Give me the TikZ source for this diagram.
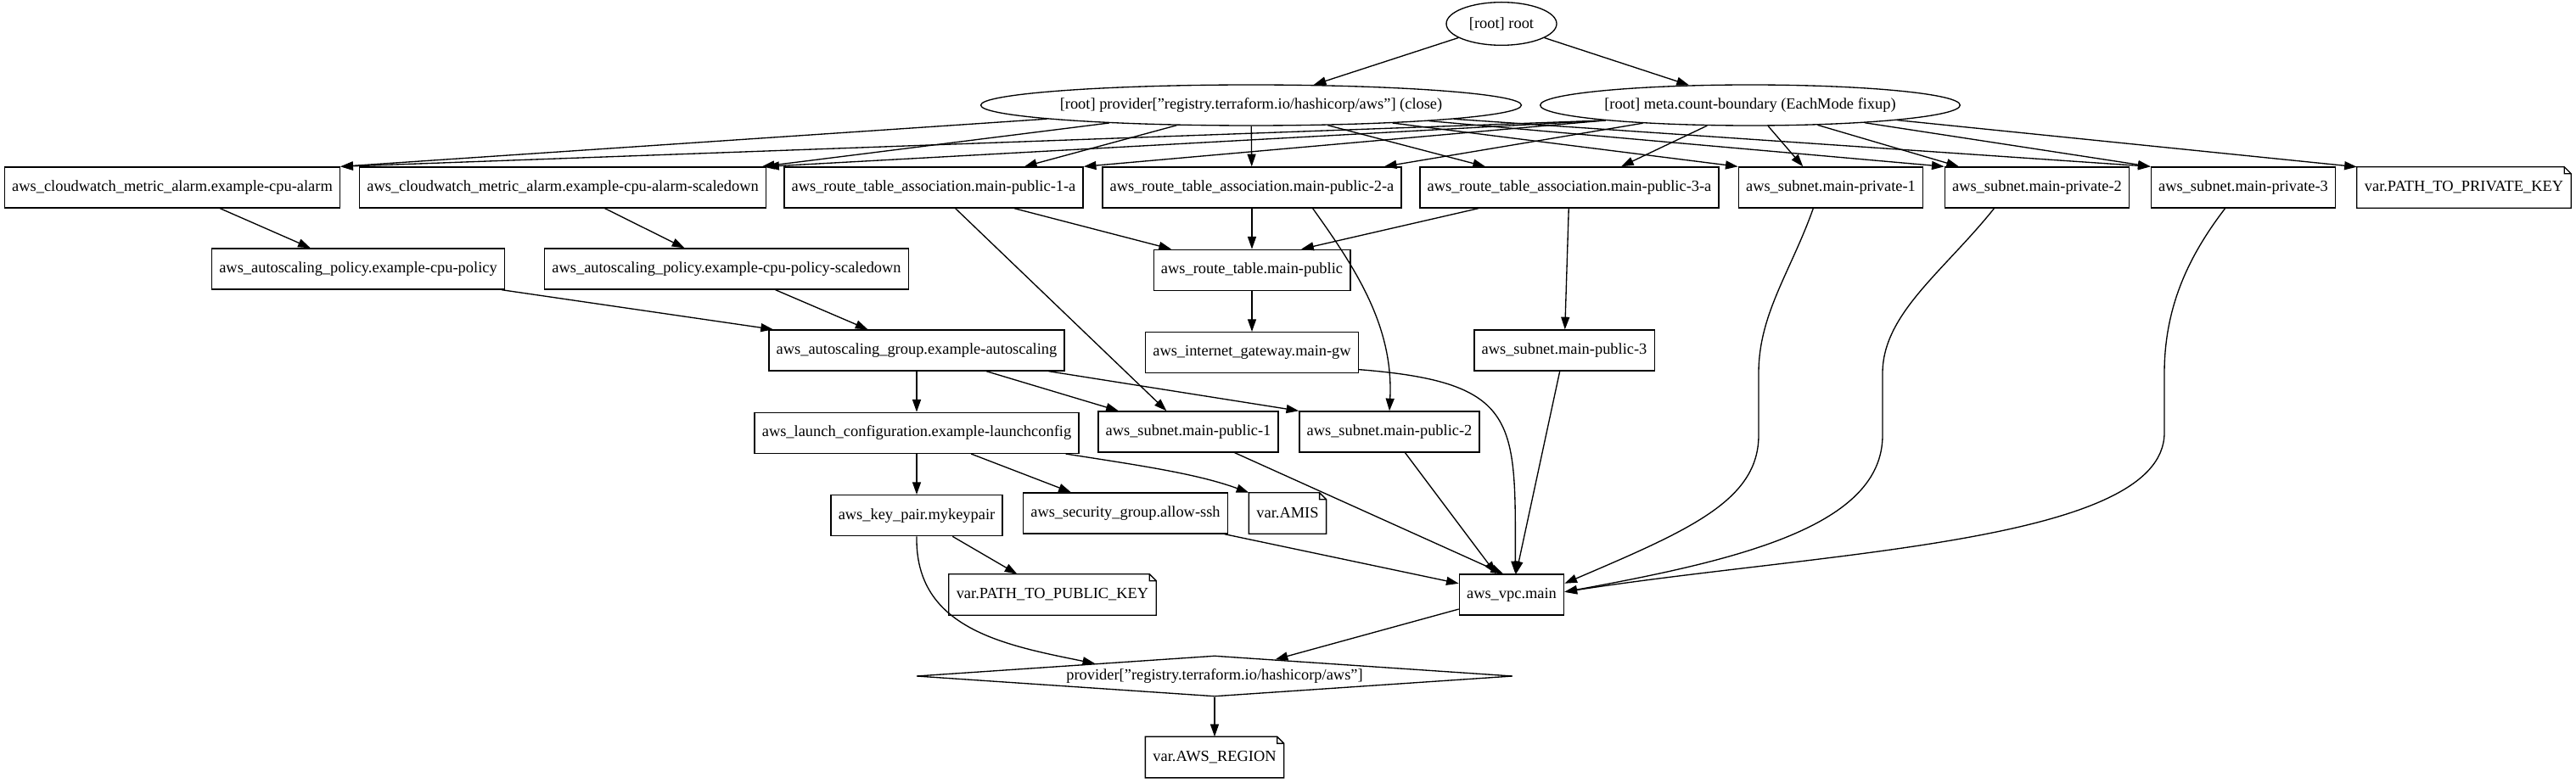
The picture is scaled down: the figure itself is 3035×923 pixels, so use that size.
\documentclass[tikz,border=0pt]{standalone}
\usepackage{fontspec}
\setmainfont{Liberation Serif}
\usetikzlibrary{arrows.meta,shapes.geometric,positioning}
\tikzset{line/.style={draw, line width=1pt, -{Triangle[length=11pt,width=7.5pt]}}}

\begin{document}
\begin{tikzpicture}[x=0.75pt, y=-0.75pt, font=\fontsize{13.8}{16}\selectfont]
\tikzstyle{block} = [rectangle, draw, line width=1pt, inner xsep=6.6pt, minimum width=54pt, minimum height=36pt]
\tikzstyle{note} = [rectangle, inner xsep=6.6pt, minimum width=54pt, minimum height=36pt,
    append after command={\pgfextra{
        \draw [line width=1pt] (\tikzlastnode.north west) -- ([xshift=-6pt]\tikzlastnode.north east)
            -- ([yshift=-6pt]\tikzlastnode.north east) -- (\tikzlastnode.south east)
            -- (\tikzlastnode.south west) -- cycle
            ([xshift=-6pt]\tikzlastnode.north east) |- ([yshift=-6pt]\tikzlastnode.north east);}}]
\tikzstyle{oval} = [ellipse, draw, line width=1pt, inner sep=0pt, minimum height=36pt]
\tikzstyle{gate} = [diamond, draw, line width=1pt, aspect=15, inner sep=0pt, minimum width=527pt, minimum height=36pt]
\useasboundingbox (0,0) rectangle (3035,923);

% blocks
    \node [oval, minimum width=97.5pt, minimum height=38pt] (root) at (1769,28) {[root] root};
    \node [oval, minimum width=476pt] (close) at (1474,124) {[root] provider["registry.terraform.io/hashicorp/aws"] (close)};
    \node [oval, minimum width=371pt] (count) at (2062,124) {[root] meta.count-boundary (EachMode fixup)};

    \node [block] (alarm) at (203,221) {aws\_cloudwatch\_metric\_alarm.example-cpu-alarm};
    \node [block] (alarmdown) at (663,221) {aws\_cloudwatch\_metric\_alarm.example-cpu-alarm-scaledown};
    \node [block] (rta1) at (1100,221) {aws\_route\_table\_association.main-public-1-a};
    \node [block] (rta2) at (1475,221) {aws\_route\_table\_association.main-public-2-a};
    \node [block] (rta3) at (1849,221) {aws\_route\_table\_association.main-public-3-a};
    \node [block] (priv1) at (2157,221) {aws\_subnet.main-private-1};
    \node [block] (priv2) at (2400,221) {aws\_subnet.main-private-2};
    \node [block] (priv3) at (2643,221) {aws\_subnet.main-private-3};
    \node [note] (privkey) at (2903,221) {var.PATH\_TO\_PRIVATE\_KEY};

    \node [block] (policy) at (422,317) {aws\_autoscaling\_policy.example-cpu-policy};
    \node [block] (policydown) at (856,317) {aws\_autoscaling\_policy.example-cpu-policy-scaledown};
    \node [block, below=36pt of rta2] (rt) {aws\_route\_table.main-public};

    \node [block] (asg) at (1080,413) {aws\_autoscaling\_group.example-autoscaling};
    \node [block, below=36pt of rt] (igw) {aws\_internet\_gateway.main-gw};
    \node [block] (pub3) at (1843,413) {aws\_subnet.main-public-3};

    \node [block, below=36pt of asg] (lc) {aws\_launch\_configuration.example-launchconfig};
    \node [block] (pub1) at (1400,509) {aws\_subnet.main-public-1};
    \node [block] (pub2) at (1637,509) {aws\_subnet.main-public-2};

    \node [block, below=36pt of lc] (kp) {aws\_key\_pair.mykeypair};
    \node [block] (sg) at (1326,605) {aws\_security\_group.allow-ssh};
    \node [note] (amis) at (1517,605) {var.AMIS};

    \node [note] (pubkey) at (1240,701) {var.PATH\_TO\_PUBLIC\_KEY};
    \node [block] (vpc) at (1781,701) {aws\_vpc.main};

    \node [gate] (prov) at (1431,797) {provider["registry.terraform.io/hashicorp/aws"]};
    \node [note, below=35pt of prov] (region) {var.AWS\_REGION};

% arrows
    \path [line] (root) -- (close);
    \path [line] (root) -- (count);
    \path [line] (close) -- (alarm.north east);
    \path [line] (close) -- (alarmdown.6);
    \path [line] (close) -- (rta1.13);
    \path [line] (close) -- (rta2);
    \path [line] (close) -- (rta3.166);
    \path [line] (close) -- (priv1.north west);
    \path [line] (close) -- (priv2.north west);
    \path [line] (close) -- (priv3.north west);
    \path [line] (count.186) -- (alarm.north east);
    \path [line] (count.186) -- (alarmdown.north east);
    \path [line] (count.186) -- (rta1.north east);
    \path [line] (count) -- (rta2.9);
    \path [line] (count) -- (rta3.22);
    \path [line] (count) -- (priv1.143);
    \path [line] (count) -- (priv2.165);
    \path [line] (count) -- (priv3.north west);
    \path [line] (count) -- (privkey.north west);
    \path [line] (alarm) -- (policy);
    \path [line] (alarmdown) -- (policydown);
    \path [line] (policy) -- (asg);
    \path [line] (policydown) -- (asg);
    \path [line] (rta1) -- (rt);
    \path [line] (rta1) -- (pub1);
    \path [line] (rta2) -- (rt);
    \path [line] (rta2.-19) .. controls +(50,70) and +(5,-100) .. (pub2.north);
    \path [line] (rta3) -- (rt.23);
    \path [line] (rta3) -- (pub3);
    \path [line] (rt) -- (igw);
    \path [line] (asg) -- (lc);
    \path [line] (asg) -- (pub1);
    \path [line] (asg) -- (pub2.north west);
    \path [line] (igw.-9) .. controls +(190,15) and +(0,-180) .. (vpc.80);
    \path [line] (pub1) -- (vpc.112);
    \path [line] (pub2) -- (vpc);
    \path [line] (pub3) -- (vpc);
    \path [line] (priv1.-130) .. controls (2110,320) and (2072,370) .. (2072,440) -- (2072,513)
        .. controls (2072,590) and (1990,625) .. (vpc.12);
    \path [line] (priv2.-154) .. controls (2290,320) and (2218,370) .. (2218,440) -- (2218,513)
        .. controls (2218,620) and (2050,660) .. (vpc.3);
    \path [line] (priv3.-131) .. controls (2580,300) and (2550,360) .. (2550,440) -- (2550,510)
        .. controls (2550,640) and (2150,650) .. (vpc.3);
    \path [line] (lc) -- (kp);
    \path [line] (lc) -- (sg);
    \path [line] (lc.-8.5) .. controls +(90,14) and +(-60,-22) .. (amis.north west);
    \path [line] (kp) -- (pubkey);
    \path [line] (kp.south) .. controls (1078,740) and (1180,760) .. (prov.174);
    \path [line] (sg) -- (vpc);
    \path [line] (vpc) -- (prov);
    \path [line] (prov) -- (region);
\end{tikzpicture}
\end{document}
